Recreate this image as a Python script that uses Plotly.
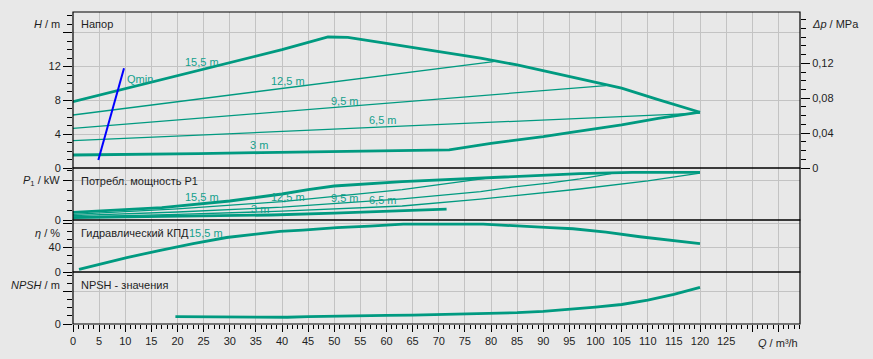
import plotly.graph_objects as go

# ---------------- data ----------------
# Head H [m] vs flow Q [m3/h]
Q_H_155 = [0, 10, 20, 30, 40, 48.8, 52.6, 60, 70, 78, 85, 95, 105, 112, 120]
H_155 = [7.85, 9.4, 10.9, 12.45, 14.0, 15.5, 15.45, 14.75, 13.8, 13.0, 12.2, 10.8, 9.45, 8.1, 6.6]
Q_H_125 = [0, 80.5]
H_125 = [6.27, 12.6]
Q_H_95 = [0, 102]
H_95 = [4.7, 9.75]
Q_H_65 = [0, 120]
H_65 = [3.23, 6.5]
Q_H_3 = [0, 12, 24, 36, 48, 60, 72, 80, 85, 90, 95, 100, 105, 112, 120]
H_3 = [1.54, 1.6, 1.7, 1.82, 1.93, 2.05, 2.15, 2.92, 3.3, 3.7, 4.18, 4.6, 5.09, 5.88, 6.6]
Q_QMIN = [4.85, 9.76]
H_QMIN = [0.95, 11.8]

# Power P1 [kW]
Q_P_155 = [0, 10, 17, 30, 40, 45, 50, 63, 76, 80, 88, 97, 107, 120]
P_155 = [0.19, 0.25, 0.31, 0.475, 0.65, 0.76, 0.85, 0.96, 1.04, 1.06, 1.11, 1.16, 1.19, 1.19]
Q_P_125 = [0, 20, 40, 63, 80]
P_125 = [0.14, 0.28, 0.46, 0.76, 1.06]
Q_P_95 = [0, 20, 40, 63, 78, 84, 91, 97, 103]
P_95 = [0.11, 0.2, 0.32, 0.53, 0.71, 0.82, 0.92, 1.03, 1.16]
Q_P_65 = [0, 20, 40, 63, 78, 97, 110, 119, 120]
P_65 = [0.08, 0.14, 0.22, 0.35, 0.52, 0.775, 0.98, 1.14, 1.17]
Q_P_3 = [0, 20, 38, 50, 63, 71.5]
P_3 = [0.06, 0.09, 0.125, 0.17, 0.22, 0.27]

# Hydraulic efficiency eta [%]
Q_ETA = [1.15, 10.3, 16.7, 23, 29.4, 35.8, 39.6, 44, 50.5, 56.8, 63.2, 78.5, 84.9, 91.3, 95.7, 102, 108.5, 113.6, 120]
ETA = [4.3, 23.5, 35.5, 46.5, 56.4, 63, 66.3, 68.4, 72.4, 75, 78.3, 78.3, 75, 72.4, 70.7, 65.1, 57.6, 53.1, 46.5]

# NPSH [m]
Q_NPSH = [19.6, 24, 25, 30, 35, 41, 45, 50, 55, 60, 65, 70, 75, 80, 85, 90, 95, 100, 105, 110, 115, 120]
NPSH = [0.92, 0.9, 0.82, 0.82, 0.82, 0.83, 0.9, 0.92, 0.95, 1.05, 1.1, 1.18, 1.22, 1.28, 1.4, 1.55, 1.8, 2.07, 2.4, 2.95, 3.65, 4.5]

# Axis ticks
X_TICKS = list(range(0, 140, 5))
X_TICKTEXT = [str(v) if v <= 125 else " " for v in X_TICKS]
H_TICKS = [0, 4, 8, 12, 16]
H_TICKTEXT = ["0", "4", "8", "12", " "]
DP_TICKS = [0, 0.04, 0.08, 0.12]
DP_TICKTEXT = ["0", "0,04", "0,08", "0,12"]
P_TICKS = [0, 1]
P_TICKTEXT = ["0", " "]
ETA_TICKS = [0, 40, 80]
ETA_TICKTEXT = ["0", "40", " "]
NPSH_TICKS = [0, 4]
NPSH_TICKTEXT = ["0", " "]

# ---------------- styling ----------------
W, H = 873, 359
ML, MR, MT, MB = 73, 73, 12, 35
PW = W - ML - MR
PH = H - MT - MB
BG = "#e8e8e8"
GRID = "#c3c3c3"
TEAL = "#009a80"
TEAL_TXT = "#14a08c"
TXT = "#1e1e1e"
FONT = "Liberation Sans, Arial, sans-serif"
THICK, THIN = 2.8, 1.3

def px(xp):
    return (xp - ML) / PW

def py(yp):
    return (H - MB - yp) / PH

d_npsh = [0, 52 / PH]
d_eta = [52 / PH, 104 / PH]
d_p = [104 / PH, 156 / PH]
d_h = [156 / PH, 1]

fig = go.Figure()

def add(q, v, ya, w, color=TEAL):
    fig.add_trace(go.Scatter(x=q, y=v, yaxis=ya, mode="lines",
                             line=dict(color=color, width=w), hoverinfo="skip",
                             showlegend=False))

add(Q_H_155, H_155, "y", THICK)
add(Q_H_125, H_125, "y", THIN)
add(Q_H_95, H_95, "y", THIN)
add(Q_H_65, H_65, "y", THIN)
add(Q_H_3, H_3, "y", THICK)
add(Q_QMIN, H_QMIN, "y", 2, "#0000ff")

add(Q_P_155, P_155, "y2", THICK)
add(Q_P_125, P_125, "y2", THIN)
add(Q_P_95, P_95, "y2", THIN)
add(Q_P_65, P_65, "y2", THIN)
add(Q_P_3, P_3, "y2", THICK)

add(Q_ETA, ETA, "y3", THICK)
add(Q_NPSH, NPSH, "y4", THICK)

# invisible trace to activate the right-hand delta-p axis
fig.add_trace(go.Scatter(x=[None], y=[None], yaxis="y5", showlegend=False, hoverinfo="skip"))

tickfont = dict(family=FONT, size=11, color=TXT)

def yax(domain, rng, tickvals, ticktext, minor_dtick):
    return dict(domain=domain, range=rng, anchor="x", tickmode="array",
                tickvals=tickvals, ticktext=ticktext, ticks="outside", ticklen=9,
                tickcolor="black", showgrid=True, gridcolor=GRID, gridwidth=1,
                zeroline=False, showline=False, tickfont=tickfont, fixedrange=True,
                automargin=False,
                minor=dict(dtick=minor_dtick, tick0=0, ticks="outside", ticklen=5,
                           tickcolor="black", showgrid=False))

layout = dict(
    width=W, height=H,
    margin=dict(l=ML, r=MR, t=MT, b=MB, pad=0, autoexpand=False),
    paper_bgcolor=BG, plot_bgcolor=BG,
    font=dict(family=FONT, size=11, color=TXT),
    showlegend=False,
    xaxis=dict(range=[0, PW / 5.225], anchor="y4", tickmode="array",
               tickvals=X_TICKS, ticktext=X_TICKTEXT, ticks="outside", ticklen=7,
               tickcolor="black", showgrid=True, gridcolor=GRID, gridwidth=1,
               zeroline=False, showline=False, tickfont=tickfont, automargin=False,
               fixedrange=True,
               minor=dict(dtick=1, tick0=0, ticks="outside", ticklen=4,
                          tickcolor="black", showgrid=False)),
    yaxis=yax(d_h, [0, 18.46], H_TICKS, H_TICKTEXT, 1),
    yaxis2=yax(d_p, [0, 1.3], P_TICKS, P_TICKTEXT, 0.25),
    yaxis3=yax(d_eta, [0, 85], ETA_TICKS, ETA_TICKTEXT, 40 / 3),
    yaxis4=yax(d_npsh, [0, 6.4], NPSH_TICKS, NPSH_TICKTEXT, 1),
    yaxis5=dict(overlaying="y", side="right", anchor="x", range=[0, 0.1788],
                tickmode="array", tickvals=DP_TICKS, ticktext=DP_TICKTEXT,
                ticks="outside", ticklen=9, tickcolor="black", showgrid=False,
                zeroline=False, showline=False, tickfont=tickfont, automargin=False,
                fixedrange=True,
                minor=dict(dtick=0.01, tick0=0, ticks="outside", ticklen=5,
                           tickcolor="black")),
)
fig.update_layout(**layout)

# panel borders
shapes = []
for d in (d_h, d_p, d_eta, d_npsh):
    shapes.append(dict(type="rect", xref="paper", yref="paper", x0=0, x1=1,
                       y0=d[0], y1=d[1], line=dict(color="black", width=1.2),
                       fillcolor="rgba(0,0,0,0)", layer="above"))
fig.update_layout(shapes=shapes)

ann = []
def label(text, xp, yp, anchor="left", color=TXT, size=11):
    ann.append(dict(text=text, x=px(xp), y=py(yp), xref="paper", yref="paper",
                    xanchor=anchor, yanchor="middle", showarrow=False,
                    font=dict(family=FONT, size=size, color=color)))

# axis titles
label("<i>H</i> / m", 62, 24, "right")
label("<i>P</i><sub>1</sub> / kW", 62, 181, "right")
label("<i>η</i> / %", 62, 233, "right")
label("<i>NPSH</i> / m", 62, 285, "right")
label("<i>Δp</i> / MPa", 810, 24, "left")
label("<i>Q</i> / m³/h", 800, 343, "right")

# panel titles
label("Напор", 79, 24)
label("Потребл. мощность P1", 79, 181)
label("Гидравлический КПД", 79, 233)
label("NPSH - значения", 79, 285)

# curve labels
label("15,5 m", 201.7, 62.3, "center", TEAL_TXT)
label("12,5 m", 288, 81, "center", TEAL_TXT)
label("9,5 m", 345, 101, "center", TEAL_TXT)
label("6,5 m", 383, 120, "center", TEAL_TXT)
label("3 m", 259, 145, "center", TEAL_TXT)
label("Qmin", 125, 79, "left", TEAL_TXT)

label("15,5 m", 201.7, 196.7, "center", TEAL_TXT)
label("12,5 m", 288.3, 196.7, "center", TEAL_TXT)
label("9,5 m", 345, 197.7, "center", TEAL_TXT)
label("6,5 m", 383.3, 200, "center", TEAL_TXT)
label("3 m", 260, 209, "center", TEAL_TXT)

label("15,5 m", 206, 233.5, "center", TEAL_TXT)

fig.update_layout(annotations=ann)

fig.write_html(
    "out.html",
    config={"displayModeBar": False, "staticPlot": True},
    post_script="document.body.style.margin='0';document.body.style.padding='0';"
                "document.body.style.overflow='hidden';",
)
